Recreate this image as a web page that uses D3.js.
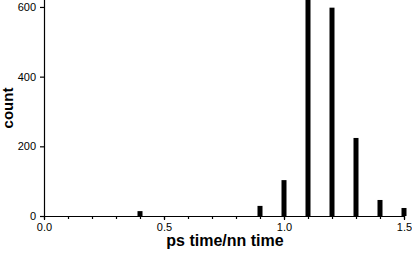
<!DOCTYPE html>
<html>
<head>
<meta charset="utf-8">
<script src="https://cdn.jsdelivr.net/npm/d3@7"></script>
<style>
  body { margin: 0; background: #fff; }
  svg { display: block; }
  text { font-family: "Liberation Sans", Arial, sans-serif; }
</style>
</head>
<body>
<script>
var ratios = [0.4, 0.9, 1.0, 1.1, 1.2, 1.3, 1.4, 1.5];
var counts = [14, 29, 103, 640, 598, 224, 46, 23];
var xTicks = [0.0, 0.5, 1.0, 1.5];
var yTicks = [0, 200, 400, 600];

var svgWidth = 412, svgHeight = 253;
var margin = {top: 0, right: 8, bottom: 37, left: 44};
var chartWidth = svgWidth - margin.left - margin.right;
var chartHeight = svgHeight - margin.top - margin.bottom;

var svg = d3.select("body").append("svg")
  .attr("width", svgWidth)
  .attr("height", svgHeight);

var chartGroup = svg.append("g")
  .attr("transform", `translate(${margin.left}, ${margin.top})`);

var x = d3.scaleLinear().domain([0, 1.5]).range([0, 360]);
var y = d3.scaleLinear().domain([0, 620]).range([chartHeight, 0]);

svg.append("clipPath").attr("id", "clip")
  .append("rect").attr("x", 0).attr("y", 0).attr("width", chartWidth + 10).attr("height", chartHeight);

// bars
var barWidth = 5;
chartGroup.append("g").attr("clip-path", "url(#clip)")
  .selectAll(".bar")
  .data(ratios)
  .enter()
  .append("rect")
  .classed("bar", true)
  .attr("x", d => x(d) - barWidth / 2)
  .attr("y", (d, i) => y(counts[i]))
  .attr("width", barWidth)
  .attr("height", (d, i) => chartHeight - y(counts[i]))
  .attr("fill", "#000");

// minor ticks on x
var xMinor = d3.axisBottom(x).tickValues(d3.range(0, 1.51, 0.1)).tickSize(3).tickFormat("");
var gxm = chartGroup.append("g").attr("transform", `translate(0, ${chartHeight})`).call(xMinor);
gxm.select(".domain").remove();

var xAxis = d3.axisBottom(x).tickValues(xTicks).tickSize(4).tickPadding(3).tickFormat(d3.format(".1f"));
var gx = chartGroup.append("g").attr("transform", `translate(0, ${chartHeight})`).call(xAxis);
gx.select(".domain").attr("d", `M0,0.5H${chartWidth}`);

var yAxis = d3.axisLeft(y).tickValues(yTicks).tickSize(4).tickPadding(4);
var gy = chartGroup.append("g").call(yAxis);
gy.select(".domain").attr("d", `M0.5,${chartHeight}V0`);

svg.selectAll(".tick text").attr("font-size", 11).attr("fill", "#000")
  .style("font-family", "'Liberation Sans', Arial, sans-serif");
svg.selectAll(".domain, .tick line").attr("stroke", "#000").attr("stroke-width", 1.2);

// labels
svg.append("text")
  .attr("x", 225).attr("y", 246)
  .attr("text-anchor", "middle")
  .attr("font-size", 16).attr("font-weight", "bold")
  .text("ps time/nn time");

svg.append("text")
  .attr("transform", "translate(13, 108) rotate(-90)")
  .attr("text-anchor", "middle")
  .attr("font-size", 15).attr("font-weight", "bold")
  .text("count");
</script>
</body>
</html>
